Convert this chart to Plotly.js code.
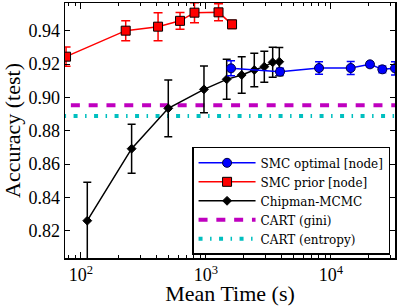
<!DOCTYPE html>
<html>
<head>
<meta charset="utf-8">
<script src="https://cdn.plot.ly/plotly-3.0.1.min.js"></script>
<style>html,body{margin:0;padding:0;background:#fff;}#chart{width:399px;height:306px;}</style>
</head>
<body>
<div id="chart"></div>
<script>
// SMC optimal [node]
const optTime = [1591, 3926, 8053, 14430, 20580, 25840, 32640];
const optAcc  = [0.9174, 0.9154, 0.9176, 0.9176, 0.9198, 0.9168, 0.9174];
const optErr  = [0.0045, 0.0020, 0.0037, 0.0039, 0.0015, 0.0020, 0.0040];

// SMC prior [node]
const priorTime = [76.2, 228.7, 415, 622, 812, 1264, 1622];
const priorAcc  = [0.9244, 0.9400, 0.9424, 0.9459, 0.9508, 0.9510, 0.9438];
const priorErr  = [0.0058, 0.0060, 0.0084, 0.0050, 0.0060, 0.0051, 0.0025];

// Chipman-MCMC
const chipTime = [112.7, 255, 501, 967, 1469, 1938, 2443, 2938, 3428, 3873];
const chipAcc  = [0.8260, 0.8692, 0.8934, 0.9048, 0.9108, 0.9134, 0.9164, 0.9184, 0.9210, 0.9214];
const chipErr  = [0.0230, 0.0147, 0.0170, 0.0140, 0.0120, 0.0110, 0.0100, 0.0093, 0.0090, 0.0085];

// CART baselines (horizontal lines)
const cartGini = 0.8952;
const cartEntropy = 0.8888;
const cartSpan = [60, 40000];

const tickVals = [100, 1000, 10000];
const tickText = ['10<sup>2</sup>', '10<sup>3</sup>', '10<sup>4</sup>'];
const yTicks = [0.82, 0.84, 0.86, 0.88, 0.90, 0.92, 0.94];

const FONT = '"Liberation Serif", "DejaVu Serif", serif';
const LEGFONT = '"DejaVu Serif", "Liberation Serif", serif';

const traces = [
  {
    x: cartSpan, y: cartSpan.map(() => cartGini), mode: 'lines', name: 'CART (gini)',
    line: {color: '#BF00BF', width: 4, dash: '9px,8.8px'}, legendrank: 4
  },
  {
    x: cartSpan, y: cartSpan.map(() => cartEntropy), mode: 'lines', name: 'CART (entropy)',
    line: {color: '#00BFBF', width: 4, dash: '4px,7.5px,1.5px,7.5px'}, legendrank: 5
  },
  {
    x: priorTime, y: priorAcc, mode: 'lines+markers', name: 'SMC prior [node]',
    line: {color: '#FF0000', width: 1.5},
    marker: {symbol: 'square', size: 9, color: '#FF0000', line: {color: '#000', width: 1}},
    error_y: {type: 'data', array: priorErr, visible: true, color: '#FF0000', thickness: 1.5, width: 4.5},
    cliponaxis: true, legendrank: 2
  },
  {
    x: chipTime, y: chipAcc, mode: 'lines+markers', name: 'Chipman-MCMC',
    line: {color: '#000000', width: 1.5},
    marker: {symbol: 'diamond', size: 6.8, color: '#000000', line: {color: '#000', width: 1}},
    error_y: {type: 'data', array: chipErr, visible: true, color: '#000000', thickness: 1.5, width: 4},
    cliponaxis: true, legendrank: 3
  },
  {
    x: optTime, y: optAcc, mode: 'lines+markers', name: 'SMC optimal [node]',
    line: {color: '#0000FF', width: 1.5},
    marker: {symbol: 'circle', size: 9, color: '#0000FF', line: {color: '#000040', width: 1}},
    error_y: {type: 'data', array: optErr, visible: true, color: '#0000FF', thickness: 1.5, width: 4},
    cliponaxis: true, legendrank: 1
  }
];

const layout = {
  width: 399, height: 306,
  margin: {l: 65, r: 4, t: 3, b: 48},
  paper_bgcolor: '#fff', plot_bgcolor: '#fff',
  font: {family: FONT, color: '#000', size: 18},
  showlegend: true,
  xaxis: {
    type: 'log', range: [1.8736, 4.5136],
    tickvals: tickVals, ticktext: tickText,
    ticks: 'inside', ticklen: 6, tickwidth: 1, tickcolor: '#000',
    minor: {ticks: 'inside', ticklen: 3, tickwidth: 1, tickcolor: '#000', dtick: 'D1', showgrid: false},
    showline: true, linecolor: '#000', linewidth: 1.5, mirror: 'ticks',
    showgrid: false, zeroline: false,
    tickfont: {family: FONT, size: 18},
    title: {text: 'Mean Time (s)', font: {family: FONT, size: 22}, standoff: 2}
  },
  yaxis: {
    range: [0.80362, 0.9566],
    tickvals: yTicks, tickformat: '.2f',
    ticks: 'inside', ticklen: 5, tickwidth: 1, tickcolor: '#000',
    showline: true, linecolor: '#000', linewidth: 1.5, mirror: 'ticks',
    showgrid: false, zeroline: false,
    tickfont: {family: FONT, size: 18},
    title: {text: 'Accuracy (test)', font: {family: FONT, size: 22}, standoff: 4}
  },
  legend: {
    x: 0.385, y: 0.436, xanchor: 'left', yanchor: 'top',
    bgcolor: '#fff', bordercolor: '#000', borderwidth: 1.5,
    font: {family: LEGFONT, size: 12, color: '#000'},
    itemwidth: 57, tracegroupgap: 0
  }
};

Plotly.newPlot('chart', traces, layout, {displayModeBar: false, staticPlot: true});
</script>
</body>
</html>
